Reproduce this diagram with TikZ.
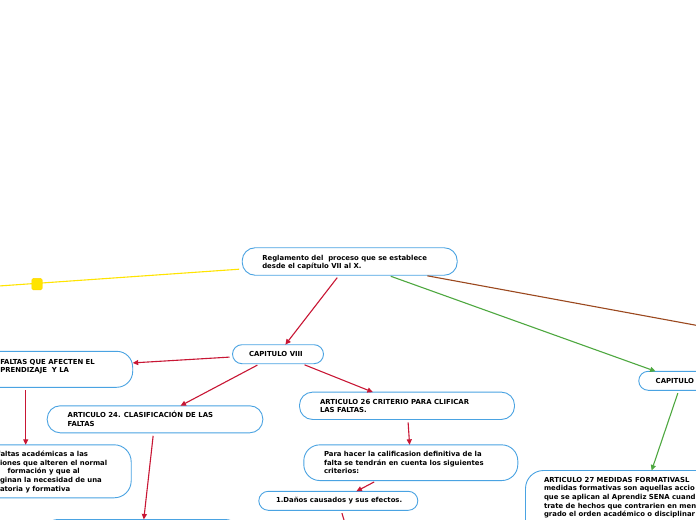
\documentclass[tikz,border=0pt]{standalone}
\usepackage{fontspec}
\setmainfont{DejaVu Sans}
\usetikzlibrary{arrows.meta}
\definecolor{boxblue}{RGB}{74,163,226}
\definecolor{redline}{RGB}{200,22,52}
\definecolor{greenline}{RGB}{78,168,64}
\definecolor{brownline}{RGB}{155,72,30}
\definecolor{yellowline}{RGB}{255,228,0}
\newcommand\myst{\rule{0pt}{7bp}}
\tikzset{
  box/.style={draw=boxblue, line width=0.9bp, fill=white, inner sep=0pt, outer sep=0pt},
  txt/.style={anchor=north west, inner sep=0pt, outer sep=0pt, align=left,
    font=\bfseries\fontsize{6.9bp}{8.6bp}\selectfont, text=black},
  conn/.style={line width=1.1bp, shorten <=3bp, -{Triangle[length=5.5bp,width=5bp]}},
  plainconn/.style={line width=1.1bp, shorten <=3bp},
  redc/.style={conn, draw=redline, color=redline},
  greenc/.style={conn, draw=greenline, color=greenline},
}
\begin{document}
\begin{tikzpicture}[x=1bp, y=-1bp]
\useasboundingbox (0,0) rectangle (696,520);
\fill[white] (0,0) rectangle (696,520);
\clip (0,0) rectangle (696,520);

% boxes
\node[box, minimum width=215bp, minimum height=27.5bp, rounded corners=13bp] (root) at (349.7,261.5) {};
\node[box, minimum width=91bp, minimum height=19bp, rounded corners=9.5bp] (cap8) at (278,354.2) {};
\node[box, minimum width=214bp, minimum height=36bp, rounded corners=16bp] (art23) at (25.7,369.3) {};
\node[box, minimum width=215.6bp, minimum height=27bp, rounded corners=13bp] (art24) at (155,419.3) {};
\node[box, minimum width=215bp, minimum height=27.3bp, rounded corners=13bp] (art26) at (407,405.8) {};
\node[box, minimum width=211bp, minimum height=53bp, rounded corners=17bp] (acad) at (25.7,471.3) {};
\node[box, minimum width=214bp, minimum height=35.7bp, rounded corners=16bp] (para) at (410.8,462.7) {};
\node[box, minimum width=159bp, minimum height=19bp, rounded corners=9.5bp] (danos) at (338.3,500.8) {};
\node[box, minimum width=199bp, minimum height=37bp, rounded corners=16bp] (bottom) at (141.7,538) {};
\node[box, minimum width=86.5bp, minimum height=19bp, rounded corners=9.5bp] (cap9) at (682,380.8) {};
\node[box, minimum width=214bp, minimum height=113bp, rounded corners=18bp] (art27) at (632.5,527) {};

\coordinate (yend) at (-120,294.3);
\coordinate (bend) at (900,362.8);
\coordinate (dend) at (348.4,535);

% connectors
\draw[plainconn, draw=yellowline] (root) -- (yend);
\draw[plainconn, draw=brownline] (root) -- (bend);
\draw[greenc] (root) -- (cap9);
\draw[greenc] (cap9) -- (art27);
\draw[redc] (root) -- (cap8);
\draw[redc] (cap8) -- (art23);
\draw[redc] (cap8) -- (art24);
\draw[redc] (cap8) -- (art26);
\draw[redc] (art23) -- (acad);
\draw[redc] (art24) -- (bottom);
\draw[redc] (art26) -- (para);
\draw[redc] (para) -- (danos);
\draw[plainconn, draw=redline] (danos) -- (dend);

\node[fill=yellowline, draw=yellowline!85!orange, line width=0.4bp, rounded corners=1.5bp,
  minimum width=10.5bp, minimum height=11.5bp, inner sep=0pt] (ysq) at (37,284.1) {};

% texts
\node[txt] (root-t) at (262.3,253) {\myst Reglamento del\ \ proceso que se establece\\desde el capítulo VII al X.};
\node[txt] (cap8-t) at (249,349.7) {\myst CAPITULO VIII};
\node[txt] (art23-t) at (0.3,357) {\myst FALTAS QUE AFECTEN EL\\PRENDIZAJE\ \ Y LA};
\node[txt] (art24-t) at (67.7,410.7) {\myst ARTICULO 24. CLASIFICACIÓN DE LAS\\FALTAS};
\node[txt] (art26-t) at (320,397.3) {\myst ARTICULO 26 CRITERIO PARA CLIFICAR\\LAS FALTAS.};
\node[txt] (acad-t) at (-2.5,449.7) {\myst faltas académicas a las\\\hspace*{2.5bp}iones que alteren el normal\\\hspace*{10bp}formación y que al\\\hspace*{2.5bp}ginan la necesidad de una\\\hspace*{2.5bp}atoria y formativa};
\node[txt] (para-t) at (324,449.7) {\myst Para hacer la calificasion definitiva de la\\falta se tendrán en cuenta los siguientes\\criterios:};
\node[txt] (danos-t) at (276,495.7) {\myst 1.Daños causados y sus efectos.};
\node[txt] (cap9-t) at (655.7,376.3) {\myst CAPITULO IX};
\node[txt] (art27-t) at (544,475.3) {\myst ARTICULO 27 MEDIDAS FORMATIVASL\\medidas formativas son aquellas accio\\que se aplican al Aprendiz SENA cuand\\trate de hechos que contrarien en men\\grado el orden académico o disciplinar};
\end{tikzpicture}
\end{document}
